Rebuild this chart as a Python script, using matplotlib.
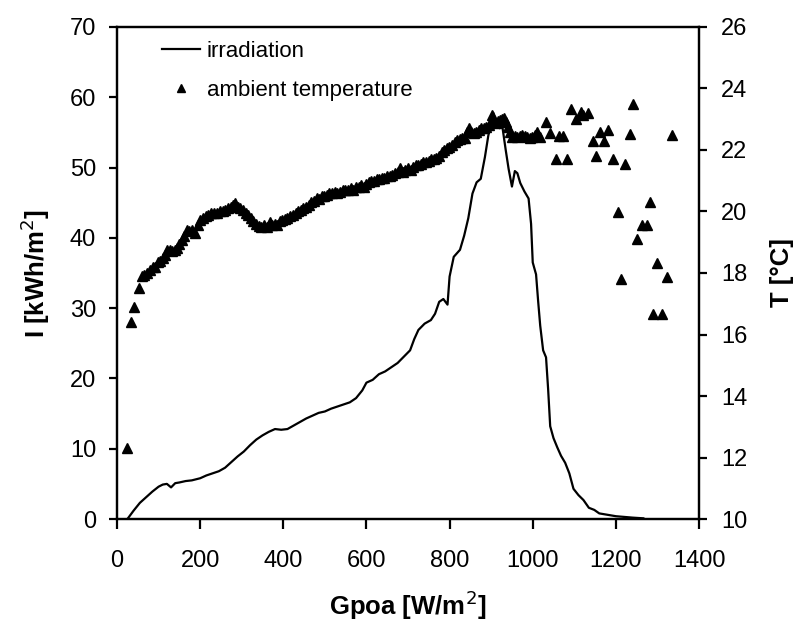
import matplotlib
matplotlib.use("Agg")
import matplotlib.pyplot as plt
from matplotlib.lines import Line2D

plt.rcParams['font.family'] = ['Liberation Sans', 'DejaVu Sans']

# Irradiation curve (left axis)
irr_g = [25, 40, 55, 70, 85, 100, 110, 120, 130, 140, 150, 165, 180, 200, 215, 230, 245,
         260, 275, 290, 305, 320, 335, 350, 365, 380, 395, 410, 425, 440, 455, 470, 485,
         500, 515, 530, 545, 560, 575, 590, 600, 615, 630, 645, 660, 675, 690, 705, 715,
         725, 740, 755, 765, 775, 785, 795, 800, 810, 825, 835, 845, 855, 865, 875, 885,
         893, 900, 905, 912, 920, 927, 935, 942, 950, 957, 963, 970, 980, 990, 996,
         1000, 1008, 1013, 1018, 1025, 1032, 1037, 1042, 1050, 1059, 1068, 1078, 1088,
         1098, 1110, 1122, 1135, 1148, 1160, 1180, 1200, 1220, 1240, 1266]
irr_i = [0.0, 1.2, 2.3, 3.1, 3.9, 4.6, 4.9, 5.0, 4.5, 5.1, 5.2, 5.4, 5.5, 5.8, 6.2, 6.5, 6.8,
         7.3, 8.1, 8.9, 9.6, 10.5, 11.3, 11.9, 12.4, 12.8, 12.7, 12.8, 13.3, 13.8, 14.3, 14.7, 15.1,
         15.3, 15.7, 16.0, 16.3, 16.6, 17.2, 18.3, 19.4, 19.8, 20.6, 21.0, 21.6, 22.2, 23.1, 24.0, 25.6,
         26.9, 27.8, 28.3, 29.2, 30.9, 31.3, 30.5, 34.5, 37.3, 38.3, 40.3, 42.8, 46.3, 47.9, 48.4, 51.5,
         54.5, 56.5, 57.8, 56.2, 55.6, 55.8, 52.5, 49.8, 47.3, 49.5, 49.2, 47.8, 46.6, 45.6, 42.0,
         36.5, 34.8, 31.0, 27.5, 24.0, 23.0, 18.5, 13.2, 11.5, 10.2, 9.0, 8.0, 6.5,
         4.3, 3.4, 2.7, 1.6, 1.3, 0.8, 0.6, 0.4, 0.3, 0.2, 0.1]

# Ambient temperature (right axis)
tmp_g = [24, 34, 41, 53, 60, 66, 72, 79, 86, 92, 98, 103, 110, 116, 120, 127, 133, 139, 144,
         150, 156, 162, 168, 174, 180, 188, 194, 200, 207, 213, 219, 226, 233, 240, 247, 254,
         260, 267, 274, 280, 285, 291, 297, 304, 310, 316, 322, 328, 334, 341, 347, 354, 360,
         367, 373, 379, 386, 392, 398, 404, 410, 417, 423, 430, 436, 442, 448, 455, 461, 467,
         473, 480, 486, 492, 498, 505, 511, 518, 524, 530, 537, 543, 549, 556, 562, 568, 575,
         581, 587, 593, 600, 606, 612, 618, 625, 631, 637, 643, 650, 656, 662, 668, 675, 681,
         687, 693, 700, 706, 712, 718, 725, 731, 737, 743, 750, 756, 762, 768, 775, 781, 787,
         793, 799, 806, 812, 818, 824, 830, 836, 842, 846, 852, 858, 864, 870, 876, 882, 888,
         894, 899, 903, 907, 912, 917, 922, 927, 931, 936, 941, 946, 951, 957, 963, 969, 975,
         981, 987, 993, 999, 1005, 1011, 1018,
         1033, 1042, 1055, 1062, 1074, 1083, 1093, 1103, 1115, 1122, 1132, 1144, 1151, 1161,
         1172, 1182, 1194, 1204, 1213, 1221, 1233, 1242, 1252, 1264, 1276, 1283, 1290, 1300,
         1312, 1324, 1334]
tmp_t = [12.3, 16.4, 16.9, 17.5, 17.9, 17.95, 18.0, 18.1, 18.2, 18.2, 18.35, 18.4, 18.5, 18.6,
         18.75, 18.75, 18.7, 18.75, 18.8, 18.95, 19.07, 19.2, 19.4, 19.35, 19.4, 19.3, 19.55, 19.72,
         19.8, 19.85, 19.9, 19.95, 19.95, 19.95, 20.0, 20.0, 20.05, 20.1, 20.15, 20.2, 20.28, 20.15,
         20.1, 20.05, 19.95, 19.9, 19.8, 19.7, 19.6, 19.52, 19.5, 19.55, 19.5, 19.66, 19.55, 19.6,
         19.56, 19.7, 19.72, 19.75, 19.8, 19.85, 19.9, 19.95, 20.0, 20.05, 20.1, 20.15, 20.2, 20.3,
         20.35, 20.45, 20.4, 20.5, 20.5, 20.55, 20.6, 20.6, 20.65, 20.6, 20.65, 20.7, 20.7, 20.7,
         20.75, 20.7, 20.8, 20.8, 20.85, 20.8, 20.9, 20.95, 21.0, 21.0, 21.05, 21.05, 21.1, 21.1,
         21.15, 21.15, 21.2, 21.25, 21.3, 21.42, 21.3, 21.35, 21.4, 21.35, 21.45, 21.5, 21.5, 21.55,
         21.6, 21.6, 21.65, 21.7, 21.7, 21.75, 21.8, 21.95, 22.0, 22.05, 22.1, 22.15, 22.25, 22.33,
         22.35, 22.4, 22.4, 22.6, 22.72, 22.6, 22.55, 22.6, 22.65, 22.72, 22.7, 22.75, 22.8, 22.9,
         23.14, 22.95, 22.88, 22.95, 22.98, 23.0, 23.04, 22.9, 22.75, 22.6, 22.42, 22.45, 22.42,
         22.45, 22.49, 22.45, 22.42, 22.4, 22.42, 22.5, 22.59, 22.42,
         22.91, 22.55, 21.7, 22.45, 22.45, 21.7, 23.33, 23.0, 23.24, 23.14, 23.2, 22.3, 21.8, 22.59,
         22.3, 22.65, 21.7, 19.98, 17.8, 21.55, 22.52, 23.5, 19.1, 19.56, 19.56, 20.3, 16.67, 18.33,
         16.67, 17.87, 22.49]

x_ticks = [0, 200, 400, 600, 800, 1000, 1200, 1400]
yl_ticks = [0, 10, 20, 30, 40, 50, 60, 70]
yr_ticks = [10, 12, 14, 16, 18, 20, 22, 24, 26]

fig = plt.figure(figsize=(8.02, 6.23), dpi=100)
ax = fig.add_axes([0.1459, 0.1669, 0.7257, 0.7898])
ax2 = ax.twinx()

ax.plot(irr_g, irr_i, color='black', lw=1.6)
ax2.plot(tmp_g, tmp_t, linestyle='none', marker='^', color='black', markersize=7.5)

ax.set_xlim(0, 1400)
ax.set_ylim(0, 70)
ax2.set_ylim(10, 26)
ax.set_xticks(x_ticks)
ax.set_yticks(yl_ticks)
ax2.set_yticks(yr_ticks)

for a in (ax, ax2):
    for s in a.spines.values():
        s.set_linewidth(1.6)
ax.tick_params(axis='x', direction='out', length=7, width=1.6, labelsize=17, pad=15)
ax.tick_params(axis='y', direction='out', length=6, width=1.6, labelsize=17, pad=9)
ax2.tick_params(axis='y', direction='out', length=6, width=1.6, labelsize=17, pad=10)

ax.set_xlabel('Gpoa [W/m$^2$]', fontsize=18.5, fontweight='bold', labelpad=12)
ax.set_ylabel('I [kWh/m$^2$]', fontsize=18.5, fontweight='bold', labelpad=13)
ax2.set_ylabel('T [°C]', fontsize=18.5, fontweight='bold', rotation=90, labelpad=16)

handles = [Line2D([], [], color='black', lw=1.6),
           Line2D([], [], color='black', marker='^', linestyle='none', markersize=5.5)]
ax.legend(handles, ['irradiation', 'ambient temperature'], loc='upper left',
          bbox_to_anchor=(0.0774, 0.972), frameon=False, fontsize=16,
          labelspacing=0.8, handlelength=1.7, handletextpad=0.3,
          borderpad=0, borderaxespad=0)

fig.savefig('out.png', dpi=100)
